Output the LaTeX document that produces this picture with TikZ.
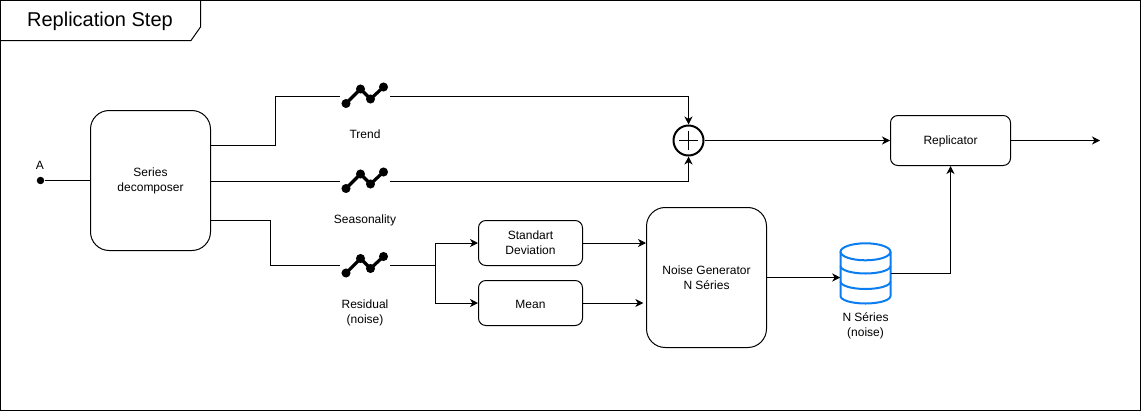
\documentclass[tikz,border=0pt]{standalone}
\usepackage{fontspec}
\setmainfont{Liberation Sans}
\usetikzlibrary{arrows.meta}

\definecolor{dbblue}{RGB}{10,125,240}

\tikzset{
  line/.style={draw=black, line width=0.75pt},
  arrow/.style={line, -{Stealth[length=6pt,width=6pt,inset=1.8pt]}},
  boxtext/.style={align=center, font=\fontsize{9}{11.25}\selectfont, inner sep=0pt, execute at begin node={\rule{0pt}{8.5pt}}},
  bigbox/.style={draw=black, line width=0.75pt, rounded corners=14pt, minimum width=90pt, minimum height=105pt, boxtext},
  smallbox/.style={draw=black, line width=0.75pt, rounded corners=5.5pt, minimum width=78pt, minimum height=33.75pt, boxtext},
  label/.style={align=center, font=\fontsize{9}{11.25}\selectfont, inner sep=0pt},
  iconbox/.style={minimum width=37.5pt, minimum height=20pt, inner sep=0pt},
  dot/.style={circle, fill=black, minimum size=5.6pt, inner sep=0pt}
}

\newcommand{\trendicon}[1]{
  \begin{scope}[shift={(#1.center)}]
    \draw[line width=2.4pt] (-19,7.5) -- (-4.5,-7) -- (5.5,3) -- (18.5,-9);
    \foreach \px/\py in {-19/7.5, -4.5/-7, 5.5/3, 18.5/-9}
      \fill (\px,\py) circle (3.4pt);
  \end{scope}
}

\begin{document}
\begin{tikzpicture}[x=0.75pt,y=0.75pt,yscale=-1,xscale=1]
\useasboundingbox (0,0) rectangle (1141,411);

% frame and title
\draw[line] (0.5,0.5) rectangle (1140.5,410.5);
\draw[line] (0.5,40.5) -- (191,40.5) -- (200.5,27) -- (200.5,0.5);
\node[label, font=\fontsize{15}{18}\selectfont] (title) at (100,21.5) {Replication Step};

% input
\node[dot] (input) at (40.5,180.5) {};
\node[label] (inputlabel) at (40,165) {A};

% boxes
\node[bigbox] (decomp) at (150.5,180.5) {Series\\decomposer};
\node[smallbox] (std) at (530.5,243) {Standart\\Deviation};
\node[smallbox] (mean) at (530.5,303) {Mean};
\node[bigbox] (noise) at (706.5,277.5) {Noise Generator\\N Séries};
\node[smallbox, minimum width=90pt, minimum height=37.5pt] (replicator) at (950.5,140.5) {Replicator};

% series icons
\node[iconbox] (trend) at (365,96) {};
\node[iconbox] (season) at (365,181) {};
\node[iconbox] (resid) at (365,265.5) {};
\trendicon{trend}
\trendicon{season}
\trendicon{resid}
\node[label] (trendlabel) at (365,134) {Trend};
\node[label] (seasonlabel) at (365,220) {Seasonality};
\node[label] (residlabel) at (365,313) {Residual\\(noise)};

% sum
\node[circle, draw=black, line width=1.5pt, minimum size=22.5pt, inner sep=0pt] (sum) at (688.5,140.5) {};
\begin{scope}[shift={(sum.center)}]
  \draw[line width=1.4pt] (-9.5,0) -- (9.5,0);
  \draw[line width=1.4pt] (0,-9.5) -- (0,9.5);
\end{scope}

% database
\node[minimum width=37.5pt, minimum height=45pt, inner sep=0pt] (db) at (865.5,273.5) {};
\begin{scope}[shift={(db.center)}, draw=dbblue, line width=1.5pt]
  \draw (0,-21.7) ellipse (25 and 8.5);
  \draw (-25,-21.7) -- (-25,22.5) arc (180:0:25 and 7.5) -- (25,-21.7);
  \draw (-25,-7.5) arc (180:0:25 and 7.5);
  \draw (-25,8) arc (180:0:25 and 7.5);
\end{scope}
\node[label] (dblabel) at (865.5,325.5) {N Séries\\(noise)};

% free ends
\coordinate (dectrend) at (210.5,145.5);
\coordinate (decresid) at (210.5,220.5);
\coordinate (split) at (435,265.5);
\coordinate (output) at (1100,140.5);

% connectors
\draw[line] (input) -- (decomp.west);
\draw[line] (dectrend) -- (275,145.5) -- (275,96) -- (trend.west);
\draw[line] (decomp.east |- season) -- (season.west);
\draw[line] (decresid) -- (270.5,220.5) -- (270.5,265.5) -- (resid.west);
\draw[arrow] (trend.east) -| (sum.north);
\draw[arrow] (season.east) -| (sum.south);
\draw[line] (resid.east) -- (split);
\draw[arrow] (split) |- (std.west);
\draw[arrow] (split) |- (mean.west);
\draw[arrow] (std.east) -- (noise.west |- std);
\draw[arrow] (mean.east) -- ([xshift=-2pt]noise.west |- mean);
\draw[arrow] (noise.east) -- (db.west |- noise.east);
\draw[arrow] (db.east) -| (replicator.south);
\draw[arrow] (sum.east) -- (replicator.west);
\draw[arrow] (replicator.east) -- (output);

\end{tikzpicture}
\end{document}
